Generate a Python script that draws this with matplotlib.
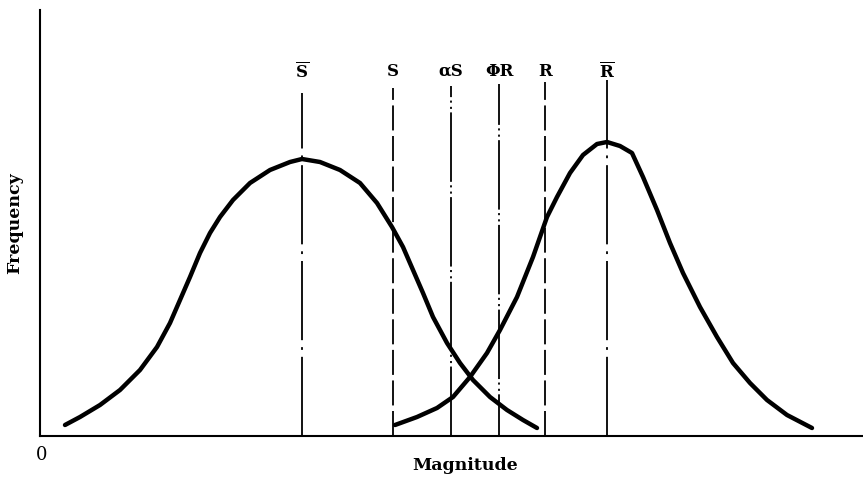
import numpy as np
import matplotlib
matplotlib.use("Agg")
import matplotlib.pyplot as plt

plt.rcParams['font.family'] = ['DejaVu Serif']
plt.rcParams['mathtext.fontset'] = 'dejavuserif'
plt.rcParams['lines.scale_dashes'] = False

# curve samples (magnitude, frequency) in plot units
s_mag = [25, 40, 60, 80, 100, 117, 130, 140, 150, 160, 170, 180, 193, 210, 230,
         250, 262, 280, 300, 320, 337, 352, 363, 373, 383, 393, 407, 420, 433,
         450, 467, 483, 497]
s_freq = [11, 19, 31, 46, 66, 89, 113, 136, 159, 183, 203, 219, 236, 253, 266,
          274, 277, 274, 266, 253, 233, 209, 189, 166, 143, 119, 93, 73, 56,
          39, 26, 16, 8]

r_mag = [355, 377, 397, 413, 430, 447, 460, 477, 493, 507, 517, 530, 543, 557,
         567, 580, 592, 603, 617, 630, 643, 660, 677, 693, 710, 727, 747, 772]
r_freq = [11, 19, 28, 39, 59, 83, 106, 139, 179, 219, 239, 263, 281, 292,
          294, 290, 283, 259, 226, 193, 163, 129, 99, 73, 53, 36, 21, 8]

# reference lines: label, position, top, style
ref_labels = [r'$\overline{\mathbf{S}}$', 'S', 'αS', 'ΦR', 'R',
              r'$\overline{\mathbf{R}}$']
ref_pos = [262, 353, 411, 459, 505, 567]
ref_top = [343, 348, 350, 352, 354, 356]
ref_style = [
    (0, (57, 5, 2, 5)),
    (0, (18, 4)),
    (0, (50, 2.5, 1.5, 3, 1.5, 2.5)),
    (20, (50, 2.5, 1.5, 3, 1.5, 2.5)),
    (0, (18, 4)),
    (0, (57, 5, 2, 5)),
]

fig = plt.figure(figsize=(8.63, 4.80), dpi=100)
ax = fig.add_axes([40 / 863, 44 / 480, 823 / 863, 426 / 480])
ax.set_xlim(0, 823)
ax.set_ylim(0, 426)

for lab, x, top, ls in zip(ref_labels, ref_pos, ref_top, ref_style):
    ax.plot([x, x], [0, top], color='black', lw=1.3, linestyle=ls)
    ax.text(x, 365, lab, ha='center', va='center', fontsize=12, fontweight='bold')

ax.plot(s_mag, s_freq, color='black', lw=3.2, solid_capstyle='round',
        solid_joinstyle='round')
ax.plot(r_mag, r_freq, color='black', lw=3.2, solid_capstyle='round',
        solid_joinstyle='round')

for side in ['top', 'right']:
    ax.spines[side].set_visible(False)
ax.spines['left'].set_linewidth(1.5)
ax.spines['bottom'].set_linewidth(1.5)
ax.set_xticks([])
ax.set_yticks([])

fig.text(42 / 863, 1 - 455 / 480, '0', ha='center', va='center', fontsize=13)
fig.text(465 / 863, 1 - 465 / 480, 'Magnitude', ha='center', va='center',
         fontsize=12.5, fontweight='bold')
fig.text(15 / 863, 1 - 223 / 480, 'Frequency', ha='center', va='center',
         fontsize=12.5, fontweight='bold', rotation=90)

fig.savefig('out.png', dpi=100)
